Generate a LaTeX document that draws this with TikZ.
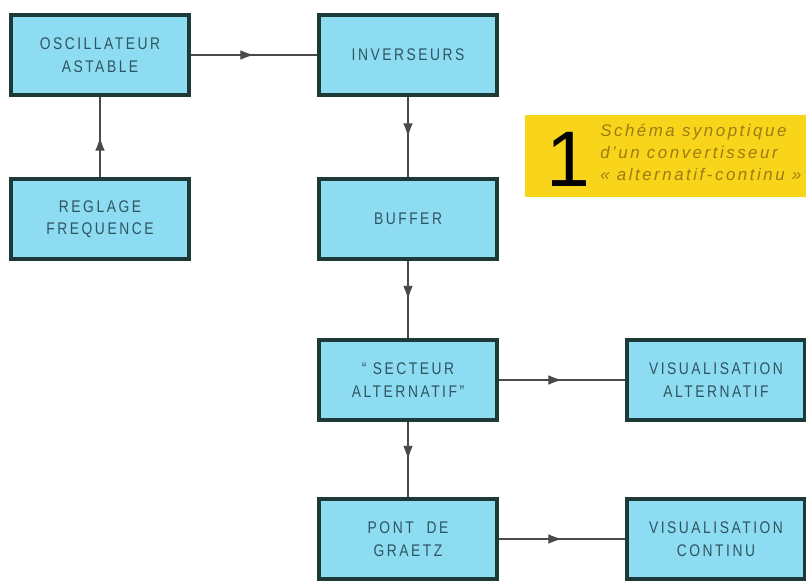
\documentclass[tikz,border=0pt]{standalone}
\usepackage{fontspec}
\setmainfont{Liberation Sans}
\usetikzlibrary{arrows.meta,decorations.markings}
\definecolor{boxfill}{HTML}{8EDCF2}
\definecolor{boxline}{HTML}{1E3A38}
\definecolor{boxtext}{HTML}{2E5562}
\definecolor{wire}{HTML}{4A4A4A}
\definecolor{capfill}{HTML}{F8D41A}
\definecolor{captext}{HTML}{9C7C12}

\begin{document}
\begin{tikzpicture}[x=0.025cm,y=-0.025cm,
  bloc/.style={draw=boxline,fill=boxfill,line width=3pt,minimum width=4.45cm,minimum height=2cm,
    inner sep=0pt,align=center,text=boxtext,
    font=\fontsize{12}{16}\selectfont\addfontfeatures{FakeStretch=0.82,LetterSpace=15}},
  fleche/.style={draw=wire,line width=0.8pt,postaction=decorate,
    decoration={markings,mark=at position 0.5 with {\arrow{Latex[length=3.4mm,width=2.4mm]}}}}]
  \useasboundingbox[fill=white] (0,0) rectangle (806,582);

  \fill[capfill] (525,115) rectangle (806,197);
  \node[anchor=base,inner sep=0pt] (num) at (568,187) {\fontsize{56}{56}\selectfont 1};
  \node[anchor=north west,align=left,inner sep=0pt,text=captext,
    font=\itshape\fontsize{12}{15.5}\selectfont\addfontfeatures{LetterSpace=15}] (titre) at (600,124)
    {Schéma synoptique\\d'un convertisseur\\« alternatif-continu »};

  \node[bloc] (osc) at (100,55) {OSCILLATEUR\\ASTABLE};
  \node[bloc] (inv) at (408,55) {INVERSEURS};
  \node[bloc] (reg) at (100,219) {REGLAGE\\FREQUENCE};
  \node[bloc] (buf) at (408,219) {BUFFER};
  \node[bloc] (sec) at (408,380) {“ SECTEUR\\ALTERNATIF”};
  \node[bloc] (visa) at (716,380) {VISUALISATION\\ALTERNATIF};
  \node[bloc] (pont) at (408,539) {PONT\ \ DE\\GRAETZ};
  \node[bloc] (visc) at (716,539) {VISUALISATION\\CONTINU};

  \draw[fleche] (osc) -- (inv);
  \draw[fleche] (reg) -- (osc);
  \draw[fleche] (inv) -- (buf);
  \draw[fleche] (buf) -- (sec);
  \draw[fleche] (sec) -- (pont);
  \draw[fleche] (sec) -- (visa);
  \draw[fleche] (pont) -- (visc);
\end{tikzpicture}
\end{document}
